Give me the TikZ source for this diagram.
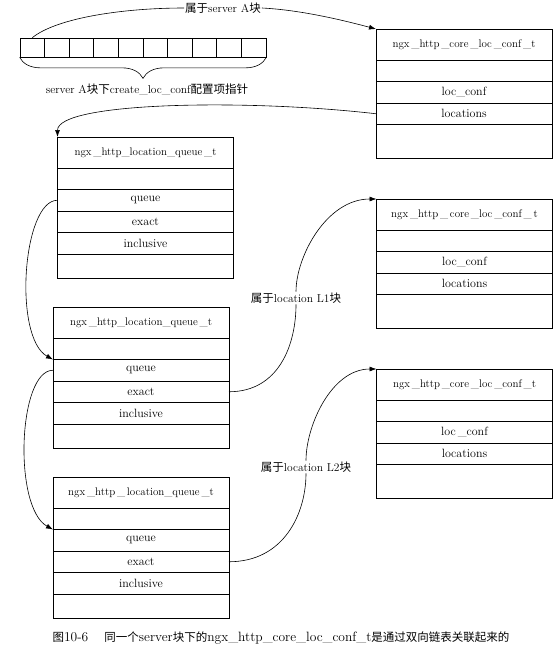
\documentclass[tikz,border=0pt]{standalone}
\usepackage{fontspec}
\newfontfamily\cjk{Noto Sans CJK SC}
\usepackage{tikz}
\usetikzlibrary{arrows.meta, positioning, decorations.pathreplacing}

\begin{document}
\begin{tikzpicture}[
    x=1pt, y=-1pt,
    font=\fontsize{11.5}{13}\selectfont,
    % Node styles
    arraycell/.style={rectangle, draw, line width=0.7pt, minimum width=24.6pt, minimum height=19pt, inner sep=0pt},
    slot/.style={rectangle, draw, line width=0.7pt, minimum width=176pt, minimum height=21.5pt, inner sep=0pt, outer sep=0pt, font=\fontsize{12}{14}\selectfont},
    headrow/.style={slot, minimum height=31pt, anchor=north, font=\fontsize{11}{13}\selectfont},
    tag/.style={inner sep=1pt, fill=white},
    arrow/.style={-{Latex[length=7pt, width=5pt]}, line width=0.6pt},
    link/.style={line width=0.6pt},
]
\useasboundingbox (0,0) rectangle (560,654);

% ============================================================================
% TOP: SERVER A ARRAY OF create_loc_conf POINTERS
% ============================================================================
\foreach \i in {0,...,9}
    \node[arraycell] (c\i) at ({32.3+24.6*\i},47.5) {};

\draw[link, decorate, decoration={brace, amplitude=21pt}] (c9.south east) -- (c0.south west);
\node (ptr) at (147,89) {server A{\cjk 块下}create\_loc\_conf{\cjk 配置项指针}};

% ============================================================================
% RIGHT: ngx_http_core_loc_conf_t BLOCKS
% ============================================================================
\foreach \k/\x/\y/\name/\conf in {
    k1/464/29/{ngx\,\_http\,\_core\,\_loc\,\_conf\,\_t}/{loc\_conf},
    k2/464.5/199/{ngx\,\_http\,\_\,core\,\_loc\,\_conf\,\_\,t}/{loc\_conf},
    k3/464.5/369/{ngx\,\_http\,\_core\,\_loc\,\_conf\,\_t}/{loc\,\_conf}} {
    \node[headrow] (\k-h) at (\x,\y) {\name};
    \node[slot, below=0pt of \k-h] (\k-a) {};
    \node[slot, below=0pt of \k-a] (\k-c) {\conf};
    \node[slot, below=0pt of \k-c] (\k-l) {locations};
    \node[slot, minimum height=34pt, below=0pt of \k-l] (\k-b) {};
}

% ============================================================================
% LEFT: ngx_http_location_queue_t BLOCKS
% ============================================================================
\foreach \q/\x/\y/\name in {
    q1/145.5/137/{ngx\,\_http\_location\_queue\,\_t},
    q2/141/307/{ngx\,\_http\_location\_queue\,\_t},
    q3/141/477/{ngx\,\_http\,\_\,location\_queue\,\_t}} {
    \node[headrow] (\q-h) at (\x,\y) {\name};
    \node[slot, below=0pt of \q-h] (\q-a) {};
    \node[slot, below=0pt of \q-a] (\q-q) {queue};
    \node[slot, below=0pt of \q-q] (\q-e) {exact};
    \node[slot, below=0pt of \q-e] (\q-i) {inclusive};
    \node[slot, minimum height=24.5pt, below=0pt of \q-i] (\q-b) {};
}

% Labels on the links
\node[tag] (own) at (223,8) {{\cjk 属于}server A{\cjk 块}};
\node[tag] (l1) at (296,298) {{\cjk 属于}location L1{\cjk 块}};
\node[tag] (l2) at (306,467) {{\cjk 属于}location L2{\cjk 块}};

% ============================================================================
% LINKS
% ============================================================================
\draw[arrow] (c0.north) .. controls +(25,-20) and +(-60,0) .. (own.west)
    (own.east) .. controls +(40,2) and +(-30,-8) .. (k1-h.north west);

\draw[arrow] (k1-l.west) .. controls +(-130,-15) and +(0,-35) .. (q1-h.north west);

% doubly linked queue
\draw[arrow] (q1-q.west) .. controls +(-35,0) and +(-40,-22) .. (q2-a.south west);
\draw[arrow] (q2-q.west) .. controls +(-35,0) and +(-40,-22) .. (q3-a.south west);

% exact -> location blocks
\draw[arrow] (q2-e.east) .. controls +(50,0) and +(0,40) .. (l1.south)
    (l1.north) .. controls +(0,-35) and +(-50,0) .. (k2-h.north west);
\draw[arrow] (q3-e.east) .. controls +(55,0) and +(0,40) .. (l2.south)
    (l2.north) .. controls +(0,-35) and +(-45,0) .. (k3-h.north west);

% Caption
\node[font=\fontsize{13.5}{15}\selectfont] (cap) at (281,638) {{\cjk\fontsize{11.5}{13}\selectfont 图}10-6\hspace{1.2em}{\cjk\fontsize{11.5}{13}\selectfont 同一个}server{\cjk\fontsize{11.5}{13}\selectfont 块下的}ngx\_http\_core\_loc\_conf\_t{\cjk\fontsize{11.5}{13}\selectfont 是通过双向链表关联起来的}};

\end{tikzpicture}
\end{document}
